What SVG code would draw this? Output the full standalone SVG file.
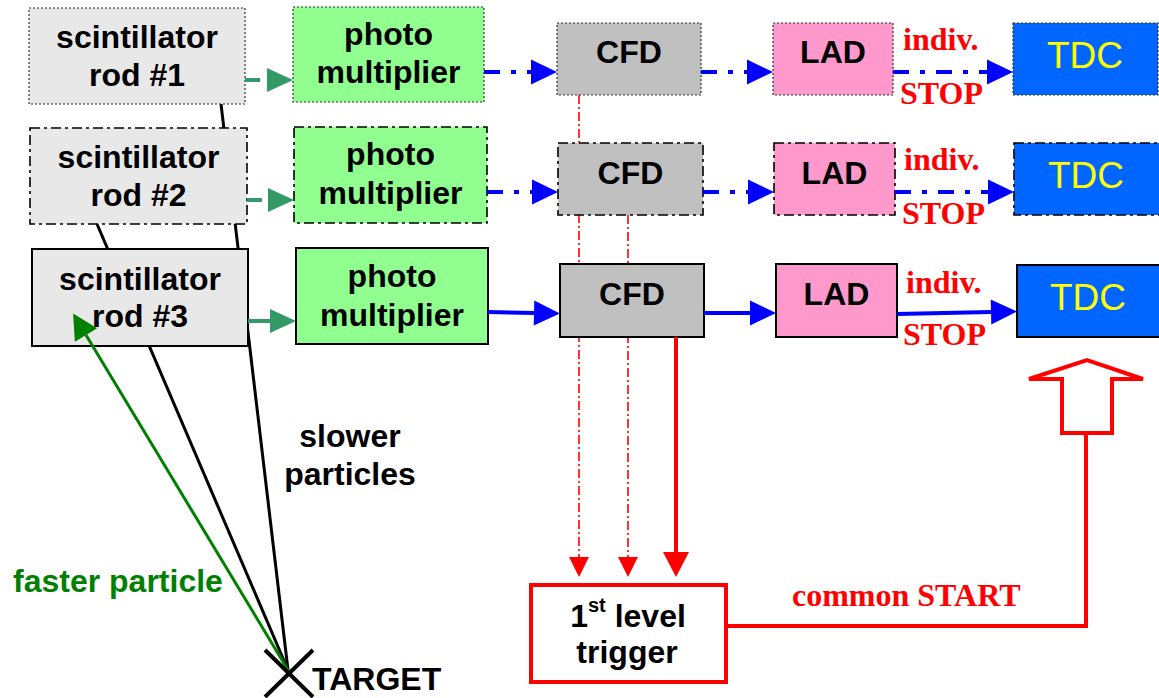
<svg xmlns="http://www.w3.org/2000/svg" width="1159" height="698" viewBox="0 0 1159 698">
<style>
.b{font-family:"Liberation Sans",Arial,sans-serif;font-weight:bold;font-size:32px;fill:#000;text-anchor:middle}
.tm{font-family:"Liberation Serif","Times New Roman",serif;font-weight:bold;font-size:32px;fill:#f00}
.tdc{font-family:"Liberation Sans",Arial,sans-serif;font-size:37px;fill:#ff0;text-anchor:middle}
.dot{stroke:#333;stroke-width:1.2;stroke-dasharray:2 2}
.dd{stroke:#000;stroke-width:1.6;stroke-dasharray:10 4 3 4}
.sol{stroke:#000;stroke-width:2}
.rod{fill:#e8e8e8}
.pm{fill:#90ff90}
.cfd{fill:#c0c0c0}
.lad{fill:#ff99cc}
.tdcbox{fill:#0066ff}
.blue{stroke:#00f;stroke-width:4;fill:none;marker-end:url(#ab)}
.bdd{stroke-dasharray:16 11 5 11}
.grn{stroke:#339966;stroke-width:4;fill:none;marker-end:url(#ag)}
.red{stroke:#f00;fill:none}
.pt{stroke:#000;stroke-width:3;fill:none}
</style>
<defs>
<marker id="ab" markerUnits="userSpaceOnUse" markerWidth="26" markerHeight="26" refX="0" refY="12.5" orient="auto" overflow="visible"><path d="M0,0 L26,12.5 L0,25 z" fill="#00f"/></marker>
<marker id="ag" markerUnits="userSpaceOnUse" markerWidth="26" markerHeight="26" refX="0" refY="12" orient="auto" overflow="visible"><path d="M0,0 L26,12 L0,24 z" fill="#339966"/></marker>
<marker id="ars" markerUnits="userSpaceOnUse" markerWidth="20" markerHeight="20" refX="0" refY="10" orient="auto" overflow="visible"><path d="M0,0 L20,10 L0,20 z" fill="#f00"/></marker>
<marker id="arb" markerUnits="userSpaceOnUse" markerWidth="26" markerHeight="26" refX="0" refY="13" orient="auto" overflow="visible"><path d="M0,0 L25,13 L0,26 z" fill="#f00"/></marker>
<marker id="agp" markerUnits="userSpaceOnUse" markerWidth="26" markerHeight="26" refX="0" refY="13" orient="auto" overflow="visible"><path d="M0,0 L25,13 L0,26 z" fill="#008000"/></marker>
</defs>

<g id="connectors-back">
<line class="pt" x1="288" y1="670" x2="221" y2="104"/>
<line class="pt" x1="288" y1="670" x2="97" y2="224"/>
<line class="red" stroke-width="1.6" stroke-dasharray="9 3 2 3" x1="579" y1="95" x2="579" y2="557" marker-end="url(#ars)"/>
<line class="red" stroke-width="1.6" stroke-dasharray="9 3 2 3" x1="628" y1="215" x2="628" y2="557" marker-end="url(#ars)"/>
</g>

<g id="rod1"><rect class="rod dot" x="29" y="8" width="216" height="96"/><text class="b" x="137" y="48">scintillator</text><text class="b" x="137" y="86">rod #1</text></g>
<g id="rod2"><rect class="rod dd" x="30" y="128" width="217" height="96"/><text class="b" x="138.5" y="168">scintillator</text><text class="b" x="138.5" y="206">rod #2</text></g>
<g id="rod3"><rect class="rod sol" x="32" y="249" width="216" height="97"/><text class="b" x="140" y="290">scintillator</text><text class="b" x="140" y="327">rod #3</text></g>

<g id="pm1"><rect class="pm dot" x="293" y="7" width="191" height="95"/><text class="b" x="388.5" y="45">photo</text><text class="b" x="388.5" y="83">multiplier</text></g>
<g id="pm2"><rect class="pm dd" x="294" y="127" width="193" height="96"/><text class="b" x="390.5" y="165">photo</text><text class="b" x="390.5" y="204">multiplier</text></g>
<g id="pm3"><rect class="pm sol" x="296" y="248" width="192" height="96"/><text class="b" x="392" y="287">photo</text><text class="b" x="392" y="326">multiplier</text></g>

<g id="cfd1"><rect class="cfd dot" x="557" y="23" width="144" height="72"/><text class="b" x="629" y="63">CFD</text></g>
<g id="cfd2"><rect class="cfd dd" x="558" y="143" width="145" height="72"/><text class="b" x="630.5" y="184">CFD</text></g>
<g id="cfd3"><rect class="cfd sol" x="560" y="264" width="144" height="73"/><text class="b" x="632" y="305">CFD</text></g>

<g id="lad1"><rect class="lad dot" x="773" y="23" width="120" height="72"/><text class="b" x="833" y="63">LAD</text></g>
<g id="lad2"><rect class="lad dd" x="774" y="143" width="121" height="72"/><text class="b" x="834.5" y="184">LAD</text></g>
<g id="lad3"><rect class="lad sol" x="776" y="264" width="121" height="73"/><text class="b" x="836.5" y="305">LAD</text></g>

<g id="tdc1"><rect class="tdcbox dot" x="1013" y="23" width="145" height="72"/><text class="tdc" x="1085" y="68">TDC</text></g>
<g id="tdc2"><rect class="tdcbox dd" x="1014" y="143" width="146" height="72"/><text class="tdc" x="1086" y="188">TDC</text></g>
<g id="tdc3"><rect class="tdcbox sol" x="1017" y="265" width="144" height="72"/><text class="tdc" x="1088" y="310">TDC</text></g>

<g id="trigger"><rect x="531" y="585" width="195" height="97" fill="#fff" stroke="#f00" stroke-width="4"/><text class="b" x="628" y="627">1<tspan font-size="20" dy="-15">st</tspan><tspan dy="15"> level</tspan></text><text class="b" x="627" y="663">trigger</text></g>

<g id="connectors">
<line class="grn" stroke-dasharray="15 8" x1="245" y1="80" x2="267" y2="80"/>
<line class="grn" stroke-dasharray="15 8" x1="247" y1="200" x2="268" y2="200"/>
<line class="grn" x1="248" y1="321" x2="270" y2="321"/>
<line class="blue bdd" x1="484" y1="72" x2="531" y2="72"/>
<line class="blue bdd" x1="487" y1="192" x2="532" y2="192"/>
<line class="blue" x1="488" y1="312" x2="534" y2="313"/>
<line class="blue bdd" x1="701" y1="72" x2="747" y2="72"/>
<line class="blue bdd" x1="703" y1="192" x2="748" y2="192"/>
<line class="blue" x1="704" y1="313" x2="750" y2="313"/>
<line class="blue bdd" x1="893" y1="72" x2="987" y2="72"/>
<line class="blue bdd" x1="895" y1="192" x2="988" y2="192"/>
<line class="blue" x1="897" y1="314" x2="991" y2="312"/>
<line class="red" stroke-width="4" x1="676" y1="337" x2="676" y2="552" marker-end="url(#arb)"/>
<polyline class="red" stroke-width="4" points="726,626 1086,626 1086,433"/>
<polygon points="1062,433 1112,433 1112,379 1143,379 1087,360 1029,379 1062,379" fill="#fff" stroke="#f00" stroke-width="4"/>
<line stroke="#008000" stroke-width="3" x1="288" y1="670" x2="86" y2="335" marker-end="url(#agp)"/>
<path d="M265,650 L313,697 M313,650 L265,697" stroke="#000" stroke-width="4"/>
</g>

<g id="labels">
<text class="tm" x="903" y="50">indiv.</text>
<text class="tm" x="900" y="104">STOP</text>
<text class="tm" x="904" y="170">indiv.</text>
<text class="tm" x="902" y="224">STOP</text>
<text class="tm" x="906" y="293">indiv.</text>
<text class="tm" x="903" y="345">STOP</text>
<text class="tm" x="792" y="606">common START</text>
<text class="b" x="350" y="447">slower</text>
<text class="b" x="350" y="485">particles</text>
<text class="b" x="13" y="592" style="text-anchor:start;fill:#008000">faster particle</text>
<text class="b" x="312" y="690" style="text-anchor:start">TARGET</text>
</g>
</svg>
